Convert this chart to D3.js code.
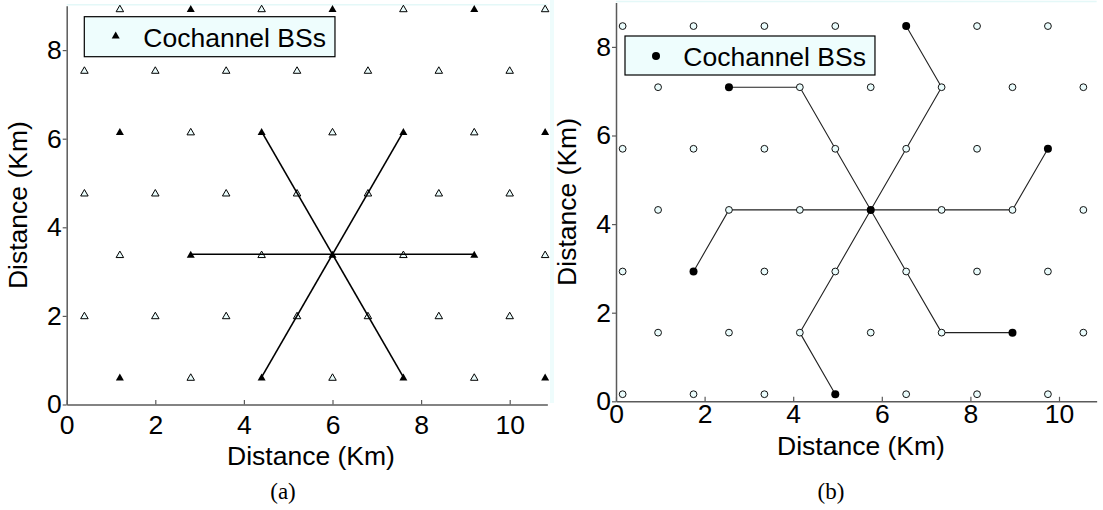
<!DOCTYPE html>
<html>
<head>
<meta charset="utf-8">
<script src="https://cdn.jsdelivr.net/npm/d3@7"></script>
<style>
  html, body { margin: 0; padding: 0; background: #fff; }
  svg { display: block; }
  .tick text { font-family: "Liberation Sans", Arial, sans-serif; font-size: 26.5px; fill: #000; }
</style>
</head>
<body>
<svg id="fig" width="1103" height="510"></svg>
<script>
// ---- data ----
const xTicks = [0, 2, 4, 6, 8, 10];
const yTicks = [0, 2, 4, 6, 8];

// (a) hexagonal BS grid, reuse factor 4
const rowsA = [0.62, 2.01, 3.39, 4.78, 6.16, 7.55, 8.94];
const colsAEven = [1.2, 2.8, 4.4, 6.0, 7.6, 9.2, 10.8];
const colsAOdd = [0.4, 2.0, 3.6, 5.2, 6.8, 8.4, 10.0];
const cochA = [
  [1.2, 0.62], [4.4, 0.62], [7.6, 0.62], [10.8, 0.62],
  [2.8, 3.39], [6.0, 3.39], [9.2, 3.39],
  [1.2, 6.16], [4.4, 6.16], [7.6, 6.16], [10.8, 6.16],
  [2.8, 8.94], [6.0, 8.94], [9.2, 8.94]
];
const centerA = [6.0, 3.39];
const ringA = [[2.8, 3.39], [9.2, 3.39], [4.4, 6.16], [7.6, 6.16], [4.4, 0.62], [7.6, 0.62]];

// (b) hexagonal BS grid, reuse factor 7
const rowsB = [0.16, 1.55, 2.93, 4.32, 5.70, 7.09, 8.47];
const colsBEven = [0.15, 1.75, 3.35, 4.95, 6.55, 8.15, 9.75];
const colsBOdd = [0.95, 2.55, 4.15, 5.75, 7.35, 8.95, 10.55];
const cochB = [
  [4.95, 0.16], [8.95, 1.55], [1.75, 2.93], [5.75, 4.32],
  [9.75, 5.70], [2.55, 7.09], [6.55, 8.47]
];
const pathsB = [
  [[5.75, 4.32], [4.15, 4.32], [2.55, 4.32], [1.75, 2.93]],
  [[5.75, 4.32], [7.35, 4.32], [8.95, 4.32], [9.75, 5.70]],
  [[5.75, 4.32], [4.95, 5.70], [4.15, 7.09], [2.55, 7.09]],
  [[5.75, 4.32], [6.55, 5.70], [7.35, 7.09], [6.55, 8.47]],
  [[5.75, 4.32], [6.55, 2.93], [7.35, 1.55], [8.95, 1.55]],
  [[5.75, 4.32], [4.95, 2.93], [4.15, 1.55], [4.95, 0.16]]
];

const legendLabel = "Cochannel BSs";
const xTitle = "Distance (Km)";
const yTitle = "Distance (Km)";

// ---- helpers ----
const svg = d3.select("#fig");
const SANS = "'Liberation Sans', Arial, sans-serif";
const FS = 26.5;
const openFill = "#eafcfc";

function gridPoints(rows, evenCols, oddCols) {
  const pts = [];
  rows.forEach((y, i) => (i % 2 === 0 ? evenCols : oddCols).forEach(x => pts.push([x, y])));
  return pts;
}
const isCo = (list) => (p) => list.some(q => Math.abs(q[0] - p[0]) < 1e-6 && Math.abs(q[1] - p[1]) < 1e-6);

function triPath(w, h) {
  return `M0,${-h / 2}L${w / 2},${h / 2}L${-w / 2},${h / 2}Z`;
}

function makePanel(cfg) {
  const ppu = 44.3;
  const x = d3.scaleLinear().domain([0, cfg.xMax]).range([cfg.left, cfg.left + cfg.xMax * ppu]);
  const y = d3.scaleLinear().domain([0, cfg.yMax]).range([cfg.bottom, cfg.bottom - cfg.yMax * ppu]);
  const g = svg.append("g");

  // faint top edge
  g.append("line")
    .attr("x1", x(0)).attr("x2", x(cfg.xMax))
    .attr("y1", y(cfg.yMax) - 1).attr("y2", y(cfg.yMax) - 1)
    .attr("stroke", "#e4f8f8").attr("stroke-width", 1.5);

  // x axis, ticks pointing inward
  const xa = g.append("g").attr("transform", `translate(0,${cfg.bottom})`)
    .call(d3.axisBottom(x).tickValues(xTicks).tickFormat(d3.format("d"))
      .tickSize(-4.5).tickSizeOuter(0).tickPadding(cfg.xPad));
  xa.select(".domain").attr("stroke", "#5a5a5a").attr("stroke-width", 1.5);
  xa.selectAll(".tick line").attr("stroke", "#5a5a5a").attr("stroke-width", 1.2);

  // y axis, short ticks outside
  const ya = g.append("g").attr("transform", `translate(${cfg.left},0)`)
    .call(d3.axisLeft(y).tickValues(yTicks).tickFormat(d3.format("d"))
      .tickSize(4).tickSizeOuter(0).tickPadding(1));
  ya.select(".domain").attr("stroke", "#5a5a5a").attr("stroke-width", 1.5);
  ya.selectAll(".tick line").attr("stroke", "#5a5a5a").attr("stroke-width", 1.2);

  // axis titles
  g.append("text").attr("x", cfg.xTitleX).attr("y", cfg.xTitleY)
    .attr("text-anchor", "middle").attr("font-family", SANS).attr("font-size", FS)
    .text(xTitle);
  g.append("text")
    .attr("transform", `translate(${cfg.yTitleX},${(y(0) + y(cfg.yMax)) / 2}) rotate(-90)`)
    .attr("text-anchor", "middle").attr("font-family", SANS).attr("font-size", FS)
    .text(yTitle);

  // caption
  g.append("text").attr("x", cfg.capX).attr("y", 499)
    .attr("text-anchor", "middle").attr("font-family", "'Liberation Serif', 'DejaVu Serif', serif")
    .attr("font-size", 23).text(cfg.caption);

  return { g, x, y };
}

// ---- panel (a) ----
const A = makePanel({ left: 66.7, bottom: 404.5, xMax: 10.85, yMax: 9, xPad: 10.5,
  xTitleX: 311, xTitleY: 465, yTitleX: 27, capX: 283, caption: "(a)" });
const ptsA = gridPoints(rowsA, colsAEven, colsAOdd);
const coA = isCo(cochA);
A.g.append("g").selectAll("path").data(ptsA.filter(p => !coA(p))).join("path")
  .attr("d", triPath(7.5, 6.5))
  .attr("transform", d => `translate(${A.x(d[0])},${A.y(d[1])})`)
  .attr("fill", openFill).attr("stroke", "#000").attr("stroke-width", 1);
A.g.append("g").selectAll("path").data(cochA).join("path")
  .attr("d", triPath(8, 7))
  .attr("transform", d => `translate(${A.x(d[0])},${A.y(d[1])})`)
  .attr("fill", "#000");
A.g.append("g").selectAll("line").data(ringA).join("line")
  .attr("x1", A.x(centerA[0])).attr("y1", A.y(centerA[1]))
  .attr("x2", d => A.x(d[0])).attr("y2", d => A.y(d[1]))
  .attr("stroke", "#000").attr("stroke-width", 1.6);

// legend (a)
const legA = A.g.append("g");
const legAText = legA.append("text").attr("x", 143.3).attr("y", 46.8)
  .attr("font-family", SANS).attr("font-size", FS).text(legendLabel);
const wA = legAText.node().getComputedTextLength();
legA.insert("rect", "text").attr("x", 84.3).attr("y", 16.7)
  .attr("width", 143.3 + wA + 9 - 84.3).attr("height", 40)
  .attr("fill", "#eefdfd").attr("stroke", "#000").attr("stroke-width", 1.2);
legA.append("path").attr("d", triPath(8, 7)).attr("transform", "translate(115.7,35)").attr("fill", "#000");

// ---- panel (b) ----
const B = makePanel({ left: 616, bottom: 401.3, xMax: 10.85, yMax: 9, xPad: 3,
  xTitleX: 861, xTitleY: 455, yTitleX: 576, capX: 831, caption: "(b)" });

// faint strip left of panel (b)
svg.insert("rect", ":first-child").attr("x", 550).attr("y", 0).attr("width", 4).attr("height", 403)
  .attr("fill", "#eefcfc");

B.g.append("g").selectAll("path").data(pathsB).join("path")
  .attr("d", d3.line().x(d => B.x(d[0])).y(d => B.y(d[1])))
  .attr("fill", "none").attr("stroke", "#222").attr("stroke-width", 1.1);
const ptsB = gridPoints(rowsB, colsBEven, colsBOdd);
const coB = isCo(cochB);
B.g.append("g").selectAll("circle").data(ptsB.filter(p => !coB(p))).join("circle")
  .attr("cx", d => B.x(d[0])).attr("cy", d => B.y(d[1])).attr("r", 3.4)
  .attr("fill", openFill).attr("stroke", "#111").attr("stroke-width", 1);
B.g.append("g").selectAll("circle").data(cochB).join("circle")
  .attr("cx", d => B.x(d[0])).attr("cy", d => B.y(d[1])).attr("r", 4)
  .attr("fill", "#000");

// legend (b)
const legB = B.g.append("g");
const legBText = legB.append("text").attr("x", 683.3).attr("y", 65.5)
  .attr("font-family", SANS).attr("font-size", FS).text(legendLabel);
const wB = legBText.node().getComputedTextLength();
legB.insert("rect", "text").attr("x", 625).attr("y", 36)
  .attr("width", 683.3 + wB + 9 - 625).attr("height", 39)
  .attr("fill", "#eefdfd").attr("stroke", "#000").attr("stroke-width", 1.2);
legB.append("circle").attr("cx", 656).attr("cy", 56).attr("r", 4).attr("fill", "#000");
</script>
</body>
</html>
